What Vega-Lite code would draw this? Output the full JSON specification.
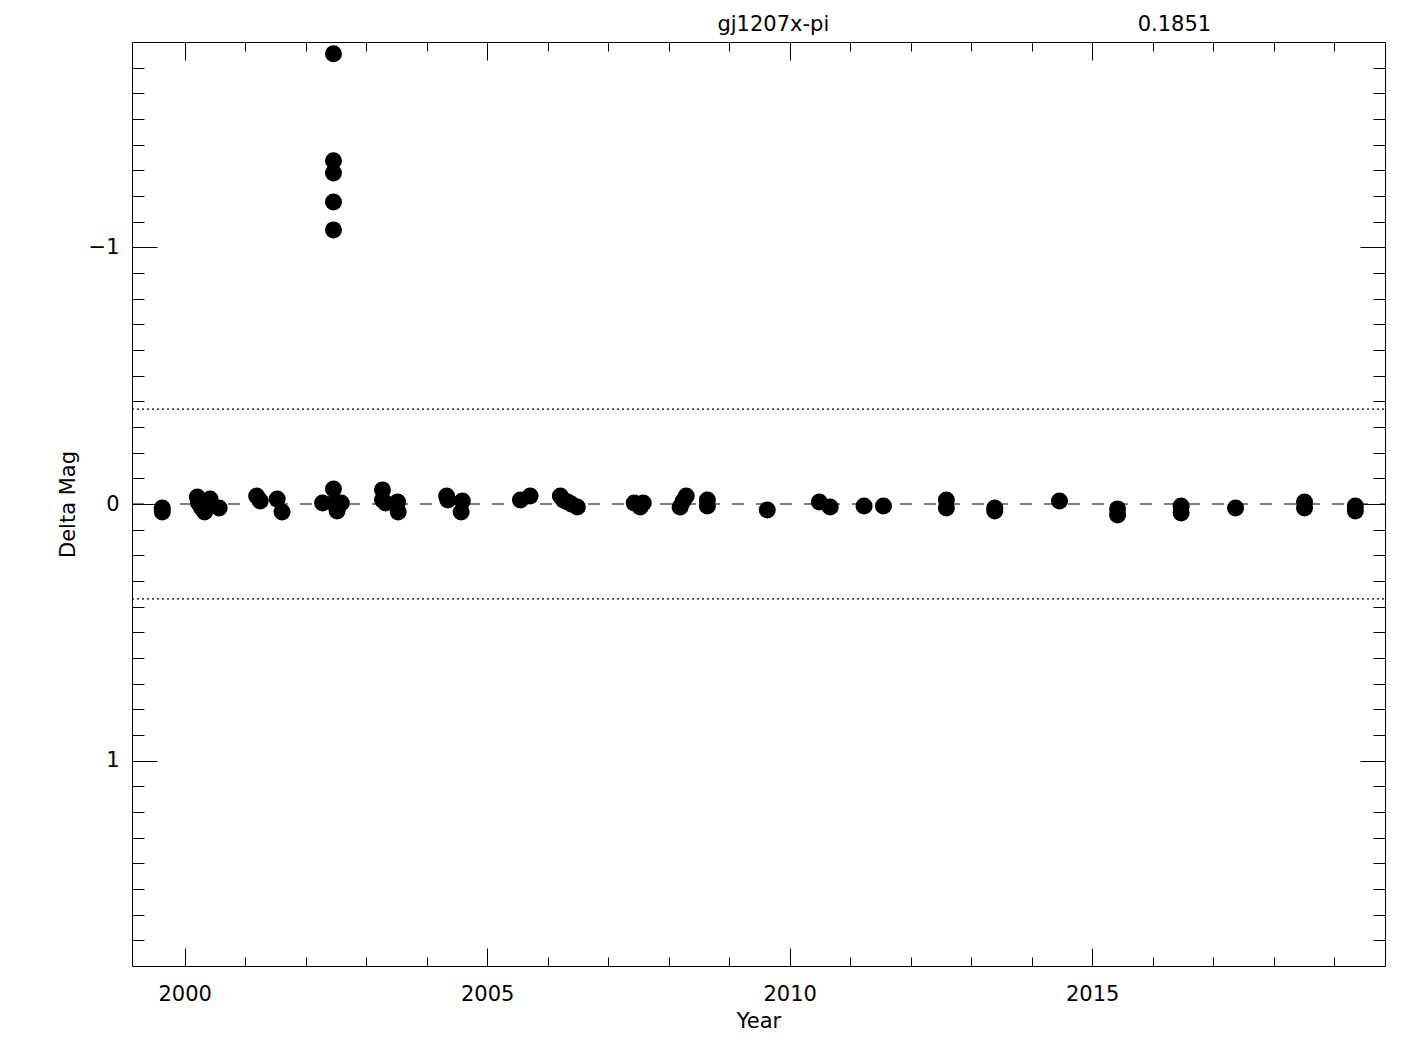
{
  "$schema": "https://vega.github.io/schema/vega-lite/v6.json",
  "width": 1253,
  "height": 924,
  "autosize": "none",
  "padding": {"left": 132, "top": 42, "right": 40, "bottom": 84},
  "background": "white",
  "config": {
    "view": {"stroke": "black", "strokeWidth": 1},
    "axis": {
      "labelFont": "DejaVu Sans",
      "labelFontSize": 21,
      "labelColor": "black",
      "titleFont": "DejaVu Sans",
      "titleFontSize": 21,
      "titleFontWeight": "normal",
      "titleColor": "black",
      "tickColor": "black",
      "tickWidth": 1,
      "domain": false,
      "grid": false,
      "labelFlush": false,
      "labelOverlap": false
    }
  },
  "resolve": {"axis": {"x": "independent", "y": "independent"}},
  "layer": [
    {
      "data": {"values": [
        {"year": 1999.63, "mag": 0.016}, {"year": 1999.63, "mag": 0.031},
        {"year": 2000.21, "mag": -0.027}, {"year": 2000.23, "mag": -0.004}, {"year": 2000.28, "mag": 0.016}, {"year": 2000.33, "mag": 0.031}, {"year": 2000.42, "mag": 0.004}, {"year": 2000.42, "mag": -0.019}, {"year": 2000.57, "mag": 0.016},
        {"year": 2001.19, "mag": -0.031}, {"year": 2001.25, "mag": -0.012}, {"year": 2001.53, "mag": -0.019}, {"year": 2001.61, "mag": 0.031},
        {"year": 2002.28, "mag": -0.004},
        {"year": 2002.46, "mag": -1.754}, {"year": 2002.46, "mag": -1.337}, {"year": 2002.46, "mag": -1.290}, {"year": 2002.46, "mag": -1.177}, {"year": 2002.46, "mag": -1.068},
        {"year": 2002.46, "mag": -0.058}, {"year": 2002.46, "mag": -0.004}, {"year": 2002.52, "mag": 0.027}, {"year": 2002.59, "mag": -0.004},
        {"year": 2003.27, "mag": -0.055}, {"year": 2003.27, "mag": -0.016}, {"year": 2003.32, "mag": -0.004}, {"year": 2003.52, "mag": -0.008}, {"year": 2003.53, "mag": 0.031},
        {"year": 2004.33, "mag": -0.031}, {"year": 2004.35, "mag": -0.016}, {"year": 2004.59, "mag": -0.012}, {"year": 2004.57, "mag": 0.031},
        {"year": 2005.55, "mag": -0.016}, {"year": 2005.71, "mag": -0.031},
        {"year": 2006.21, "mag": -0.031}, {"year": 2006.26, "mag": -0.016}, {"year": 2006.33, "mag": -0.008}, {"year": 2006.39, "mag": 0.0}, {"year": 2006.49, "mag": 0.012},
        {"year": 2007.43, "mag": -0.004}, {"year": 2007.58, "mag": -0.004}, {"year": 2007.53, "mag": 0.012},
        {"year": 2008.19, "mag": 0.012}, {"year": 2008.24, "mag": -0.012}, {"year": 2008.29, "mag": -0.031},
        {"year": 2008.64, "mag": -0.016}, {"year": 2008.64, "mag": 0.008},
        {"year": 2009.63, "mag": 0.023},
        {"year": 2010.49, "mag": -0.008}, {"year": 2010.67, "mag": 0.012},
        {"year": 2011.23, "mag": 0.008}, {"year": 2011.55, "mag": 0.008},
        {"year": 2012.59, "mag": -0.016}, {"year": 2012.59, "mag": 0.016},
        {"year": 2013.39, "mag": 0.016}, {"year": 2013.39, "mag": 0.027},
        {"year": 2014.46, "mag": -0.012},
        {"year": 2015.42, "mag": 0.019}, {"year": 2015.42, "mag": 0.043},
        {"year": 2016.47, "mag": 0.008}, {"year": 2016.47, "mag": 0.035},
        {"year": 2017.37, "mag": 0.016},
        {"year": 2018.51, "mag": -0.008}, {"year": 2018.51, "mag": 0.016},
        {"year": 2019.35, "mag": 0.008}, {"year": 2019.35, "mag": 0.027}
      ]},
      "mark": {"type": "point", "shape": "circle", "filled": true, "size": 289, "color": "black", "opacity": 1},
      "encoding": {
        "x": {"field": "year", "type": "quantitative",
          "scale": {"domain": [1999.13, 2019.84], "nice": false, "zero": false},
          "axis": {"orient": "bottom", "values": [2000, 2005, 2010, 2015], "format": "d", "tickSize": -18, "labelPadding": 35, "title": "Year", "titlePadding": 6}},
        "y": {"field": "mag", "type": "quantitative",
          "scale": {"domain": [-1.8, 1.8], "reverse": true, "nice": false, "zero": false},
          "axis": {"orient": "left", "values": [-1, 0, 1], "tickSize": -25, "labelPadding": 38, "title": "Delta Mag", "titlePadding": 10}}
      }
    },
    {
      "data": {"values": [{"mag": 0}]},
      "mark": {"type": "rule", "color": "black", "strokeWidth": 1.2, "strokeDash": [12, 12]},
      "encoding": {
        "x": {"datum": 1999.13, "type": "quantitative",
          "axis": {"orient": "bottom", "values": [1999, 2000, 2001, 2002, 2003, 2004, 2005, 2006, 2007, 2008, 2009, 2010, 2011, 2012, 2013, 2014, 2015, 2016, 2017, 2018, 2019], "tickSize": -9, "labels": false, "title": null}},
        "x2": {"datum": 2019.84},
        "y": {"field": "mag", "type": "quantitative",
          "axis": {"orient": "left", "values": [-1.7, -1.6, -1.5, -1.4, -1.3, -1.2, -1.1, -1.0, -0.9, -0.8, -0.7, -0.6, -0.5, -0.4, -0.3, -0.2, -0.1, 0, 0.1, 0.2, 0.3, 0.4, 0.5, 0.6, 0.7, 0.8, 0.9, 1.0, 1.1, 1.2, 1.3, 1.4, 1.5, 1.6, 1.7], "tickSize": -12, "labels": false, "title": null}}
      }
    },
    {
      "data": {"values": [{"mag": -0.37}, {"mag": 0.37}]},
      "mark": {"type": "rule", "color": "black", "strokeWidth": 1.2, "strokeDash": [2, 3]},
      "encoding": {
        "x": {"datum": 1999.13, "type": "quantitative",
          "axis": {"orient": "top", "values": [2000, 2005, 2010, 2015], "tickSize": -18, "labels": false, "title": null}},
        "x2": {"datum": 2019.84},
        "y": {"field": "mag", "type": "quantitative",
          "axis": {"orient": "right", "values": [-1, 0, 1], "tickSize": -25, "labels": false, "title": null}}
      }
    },
    {
      "data": {"values": [{"label": "gj1207x-pi", "year": 2009.73, "mag": -1.867}, {"label": "0.1851", "year": 2016.36, "mag": -1.867}]},
      "mark": {"type": "text", "font": "DejaVu Sans", "fontSize": 21, "color": "black", "align": "center", "baseline": "middle"},
      "encoding": {
        "x": {"field": "year", "type": "quantitative",
          "axis": {"orient": "top", "values": [1999, 2000, 2001, 2002, 2003, 2004, 2005, 2006, 2007, 2008, 2009, 2010, 2011, 2012, 2013, 2014, 2015, 2016, 2017, 2018, 2019], "tickSize": -9, "labels": false, "title": null}},
        "y": {"field": "mag", "type": "quantitative",
          "axis": {"orient": "right", "values": [-1.7, -1.6, -1.5, -1.4, -1.3, -1.2, -1.1, -1.0, -0.9, -0.8, -0.7, -0.6, -0.5, -0.4, -0.3, -0.2, -0.1, 0, 0.1, 0.2, 0.3, 0.4, 0.5, 0.6, 0.7, 0.8, 0.9, 1.0, 1.1, 1.2, 1.3, 1.4, 1.5, 1.6, 1.7], "tickSize": -12, "labels": false, "title": null}},
        "text": {"field": "label", "type": "nominal"}
      }
    }
  ]
}
